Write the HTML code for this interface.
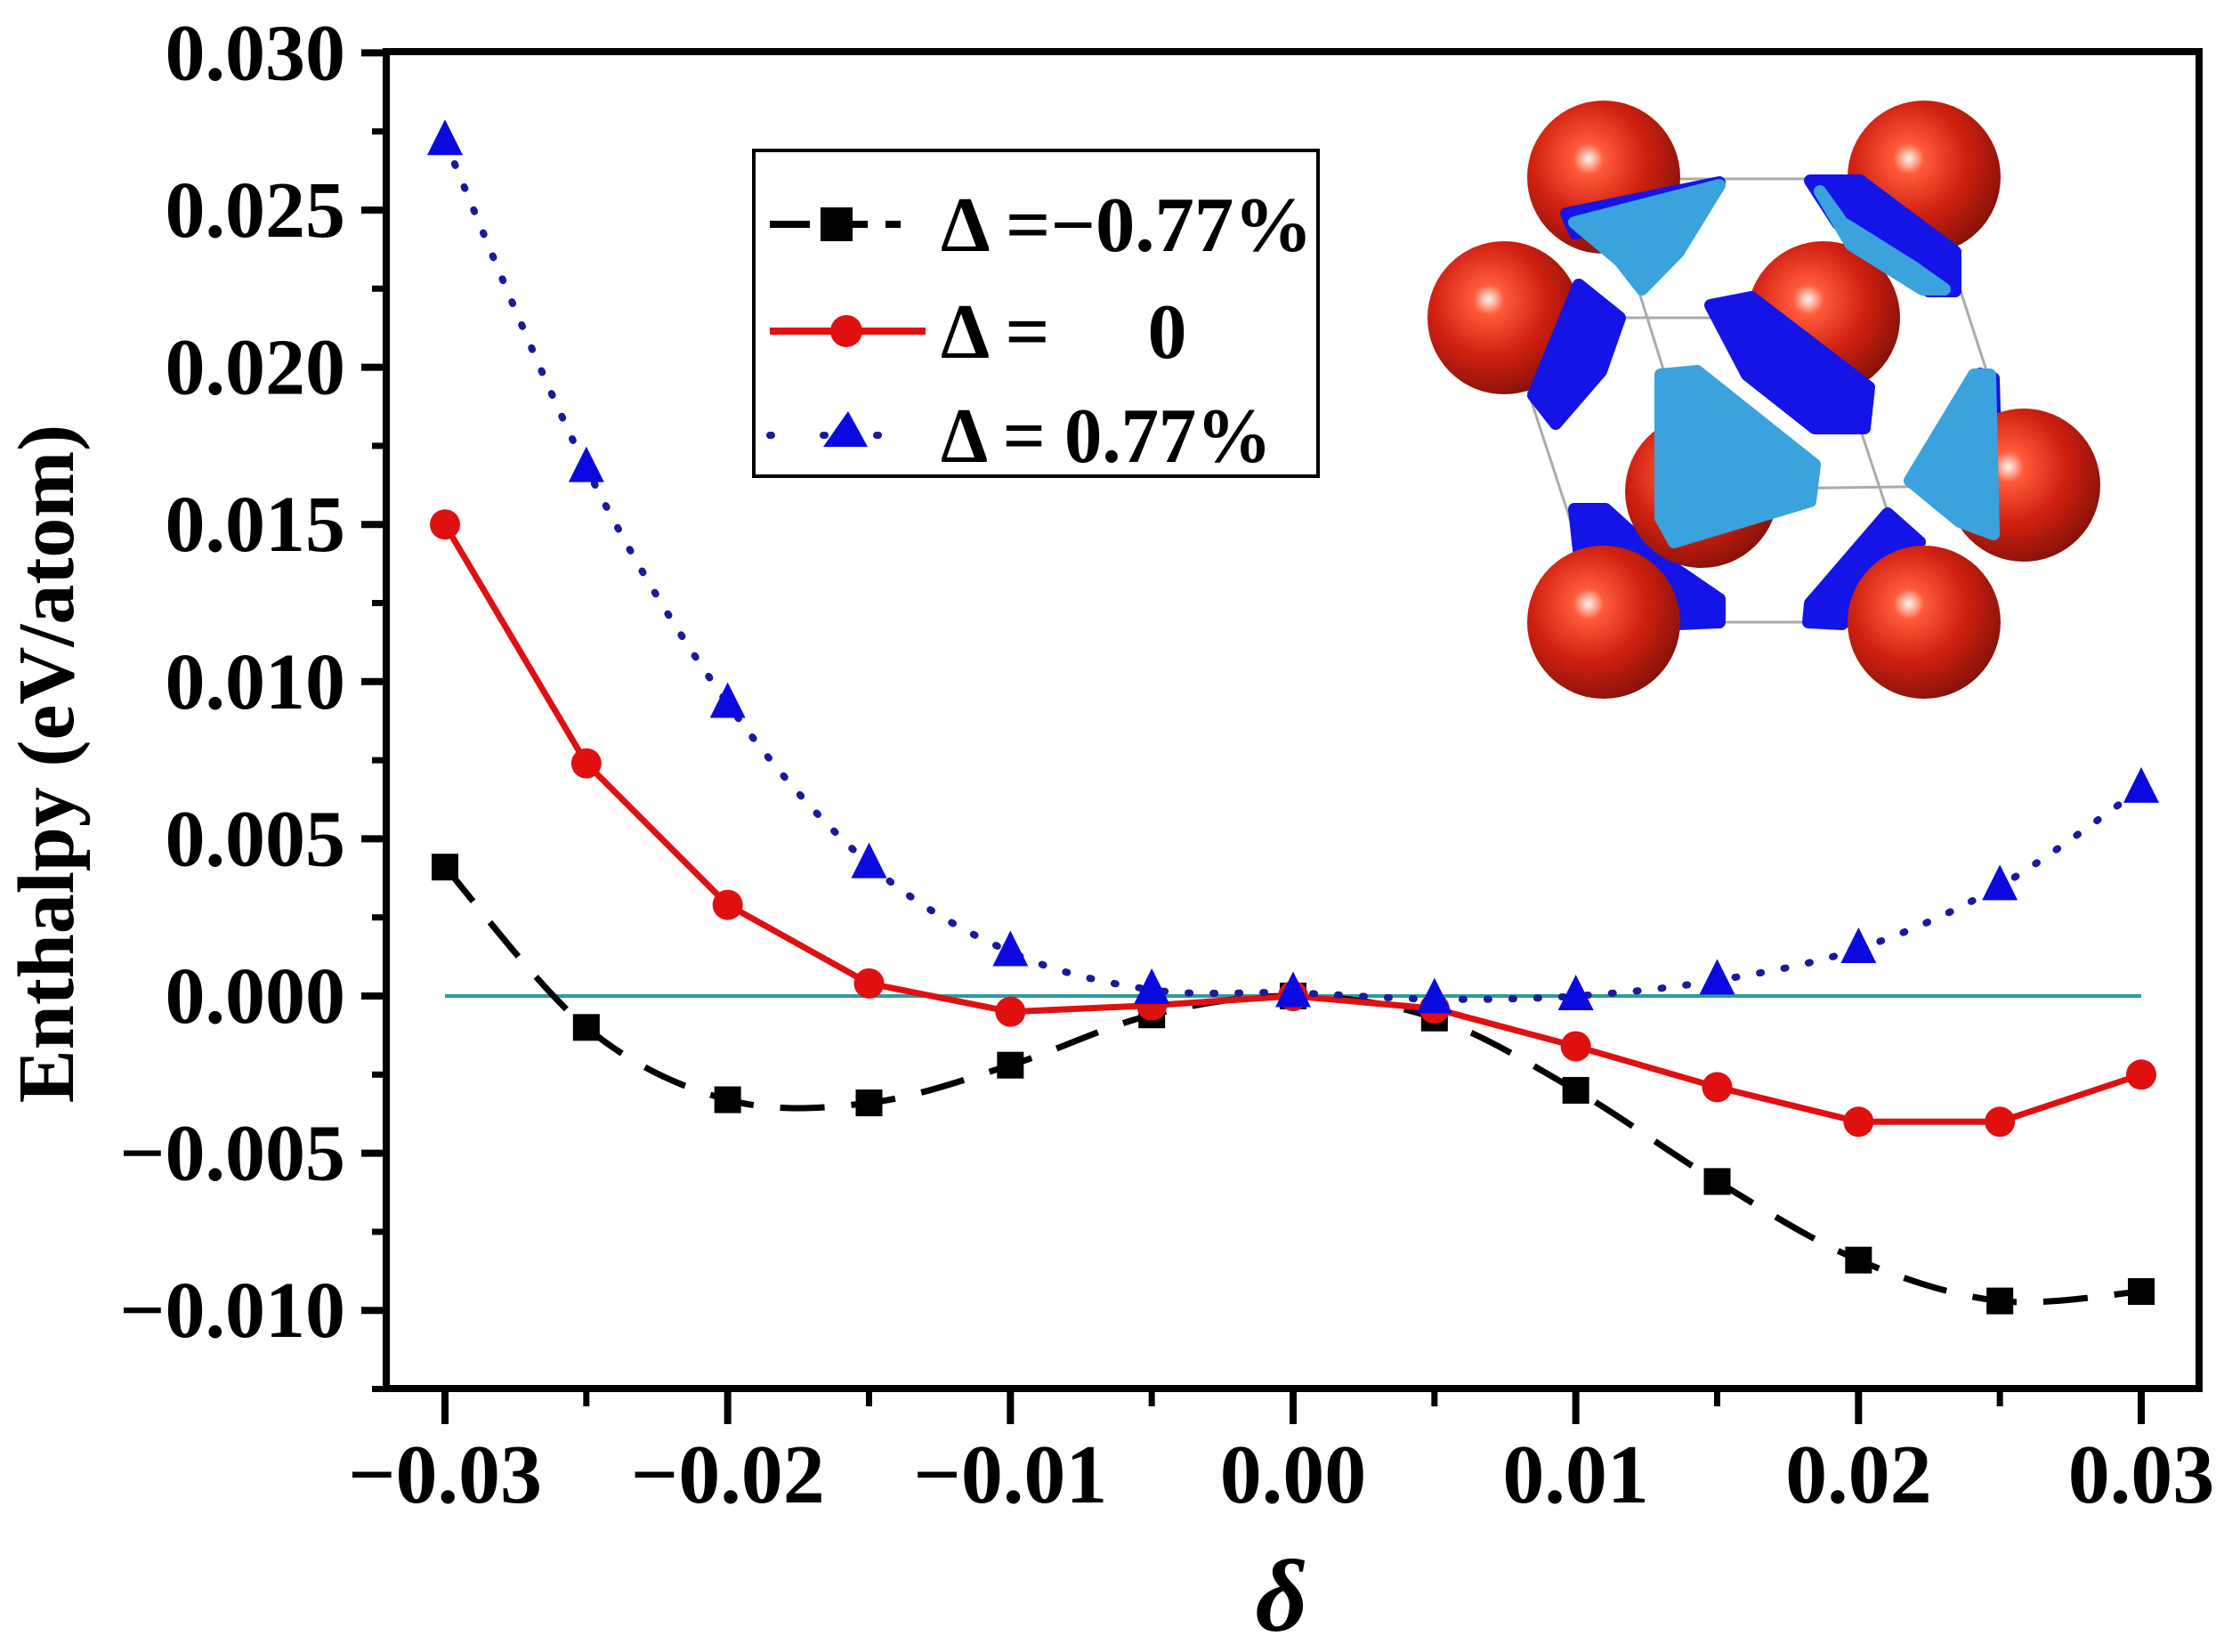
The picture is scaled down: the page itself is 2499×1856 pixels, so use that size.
<!DOCTYPE html>
<html><head><meta charset="utf-8"><style>
html,body{margin:0;padding:0;background:#fff;}
svg{display:block;}
text{font-family:"Liberation Serif","Times New Roman",serif;font-weight:bold;}
</style></head><body>
<svg id="chart" width="2499" height="1856" viewBox="0 0 2499 1856" xmlns="http://www.w3.org/2000/svg">
<defs>
<radialGradient id="sph" cx="0.4" cy="0.38" r="0.68">
<stop offset="0" stop-color="#fff6ee"/><stop offset="0.15" stop-color="#ff5a3a"/><stop offset="0.55" stop-color="#d02010"/><stop offset="1" stop-color="#801008"/>
</radialGradient>
</defs>
<g id="inset"></g>
<g id="plot"></g>
</svg>
<script>
const xVals=[-0.03,-0.025,-0.02,-0.015,-0.01,-0.005,0,0.005,0.01,0.015,0.02,0.025,0.03];
const blackVals=[0.0041,-0.001,-0.0033,-0.0034,-0.0022,-0.0006,0,-0.0007,-0.003,-0.0059,-0.0084,-0.0097,-0.0094];
const redVals=[0.015,0.0074,0.0029,0.0004,-0.0005,-0.0003,0,-0.0004,-0.0016,-0.0029,-0.004,-0.004,-0.0025];
const blueVals=[0.0272,0.0168,0.0093,0.0042,0.0014,0.0002,0.0001,-0.0001,0,0.0005,0.0015,0.0035,0.0066];
const xTicks=[-0.03,-0.02,-0.01,0,0.01,0.02,0.03];
const xTickLabels=["\u22120.03","\u22120.02","\u22120.01","0.00","0.01","0.02","0.03"];
const yTicks=[0.03,0.025,0.02,0.015,0.01,0.005,0,-0.005,-0.01];
const yTickLabels=["0.030","0.025","0.020","0.015","0.010","0.005","0.000","\u22120.005","\u22120.010"];

const NS="http://www.w3.org/2000/svg";
const L=434,R=2471,T=58,B=1560;
function X(v){return 500+(v+0.03)/0.06*(2406-500);}
function Y(v){return 1119-v/0.005*176.6;}
const plot=document.getElementById('plot');
function mk(tag,attrs,parent){const e=document.createElementNS(NS,tag);for(const k in attrs)e.setAttribute(k,attrs[k]);(parent||plot).appendChild(e);return e;}

let fr=mk('rect',{x:L,y:T,width:R-L,height:B-T,fill:'none',stroke:'#000','stroke-width':8});



for(let i=0;i<yTicks.length;i++){
  const y=Y(yTicks[i]);
  let t=mk('line',{x1:L-28,y1:y,x2:L,y2:y,stroke:'#000','stroke-width':8});
  
  
  let lb=mk('text',{x:388,y:y+30,'text-anchor':'end','font-size':90});
  lb.textContent=yTickLabels[i];
  
  
  if(i<yTicks.length-1){
    const ym=Y(yTicks[i]-0.0025);
    let m=mk('line',{x1:L-16,y1:ym,x2:L,y2:ym,stroke:'#000','stroke-width':7});
    
    
  }
}
let ym2=Y(-0.0125);
let mm=mk('line',{x1:L-16,y1:ym2,x2:L,y2:ym2,stroke:'#000','stroke-width':7});



for(let i=0;i<xTicks.length;i++){
  const x=X(xTicks[i]);
  let t=mk('line',{x1:x,y1:B,x2:x,y2:B+40,stroke:'#000','stroke-width':8});
  
  
  let lb=mk('text',{x:x,y:1688,'text-anchor':'middle','font-size':94});
  lb.textContent=xTickLabels[i];
  
  
  if(i<xTicks.length-1){
    const xm=X(xTicks[i]+0.005);
    let m=mk('line',{x1:xm,y1:B,x2:xm,y2:B+20,stroke:'#000','stroke-width':7});
    
    
  }
}

let yt=mk('text',{x:0,y:0,'text-anchor':'middle','font-size':90,transform:'translate(82,858) rotate(-90)'});
yt.textContent='Enthalpy (eV/atom)';


let xt=mk('text',{x:1440,y:1832,'text-anchor':'middle','font-size':115,'font-style':'italic','font-weight':'normal'});
xt.textContent='\u03b4';



let zl=mk('line',{x1:X(-0.03),y1:Y(0),x2:X(0.03),y2:Y(0),stroke:'#2f9c9c','stroke-width':4});



function smoothPath(vals){
  const p=xVals.map((v,i)=>[X(v),Y(vals[i])]);
  let d='M'+p[0][0]+','+p[0][1];
  for(let i=0;i<p.length-1;i++){
    const p0=p[Math.max(0,i-1)],p1=p[i],p2=p[i+1],p3=p[Math.min(p.length-1,i+2)];
    const c1=[p1[0]+(p2[0]-p0[0])/6,p1[1]+(p2[1]-p0[1])/6];
    const c2=[p2[0]-(p3[0]-p1[0])/6,p2[1]-(p3[1]-p1[1])/6];
    d+=' C'+c1[0]+','+c1[1]+' '+c2[0]+','+c2[1]+' '+p2[0]+','+p2[1];
  }
  return d;
}
function straightPath(vals){return xVals.map((v,i)=>(i?'L':'M')+X(v)+','+Y(vals[i])).join(' ');}

let bl=mk('path',{d:smoothPath(blackVals),fill:'none',stroke:'#000','stroke-width':7,'stroke-dasharray':'50 30'});


let rl=mk('path',{d:straightPath(redVals),fill:'none',stroke:'#e01010','stroke-width':7});


let ul=mk('path',{d:smoothPath(blueVals),fill:'none',stroke:'#1a1a9a','stroke-width':8,'stroke-dasharray':'2 26','stroke-linecap':'round'});



function square(x,y,s){return mk('rect',{x:x-s/2,y:y-s/2,width:s,height:s,fill:'#000'});}
function circle(x,y,r){return mk('circle',{cx:x,cy:y,r:r,fill:'#e01010'});}
function tri(x,y,s){return mk('polygon',{points:`${x},${y-s*0.6} ${x-s/2},${y+s*0.4} ${x+s/2},${y+s*0.4}`,fill:'#0a0ae0'});}
xVals.forEach((v,i)=>{
  let a=square(X(v),Y(blackVals[i]),30);
  
  
  let b=circle(X(v),Y(redVals[i]),17);
  
  
  let c=tri(X(v),Y(blueVals[i]),40);
  
  
});

const lg=mk('g',{});


mk('rect',{x:847,y:169,width:634,height:366,fill:'#fff',stroke:'#000','stroke-width':4},lg);
mk('line',{x1:865,y1:252,x2:1012,y2:252,stroke:'#000','stroke-width':8,'stroke-dasharray':'45 20'},lg);
mk('rect',{x:922,y:233,width:36,height:38,fill:'#000'},lg);
mk('line',{x1:865,y1:372,x2:1040,y2:372,stroke:'#e01010','stroke-width':8},lg);
mk('circle',{cx:951,cy:372,r:18,fill:'#e01010'},lg);
mk('line',{x1:865,y1:489,x2:995,y2:489,stroke:'#1a1a9a','stroke-width':8,'stroke-dasharray':'2 58','stroke-linecap':'round'},lg);
mk('polygon',{points:'953,462 925,502 975,502',fill:'#0a0ae0'},lg);
const lt=[['\u0394 =\u22120.77%',252,418],['\u0394 =     0',372,null],['\u0394 = 0.77%',489,372]];
lt.forEach(([s,y,w])=>{
  const a={x:1057,y:y+30,'font-size':88};
  if(w){a.textLength=w;a.lengthAdjust='spacingAndGlyphs';}
  const t=mk('text',a,lg);t.setAttribute('xml:space','preserve');t.style.whiteSpace='pre';t.textContent=s;
  
  
});

// inset
const ins=document.getElementById('inset');
const S=[[1802,199],[2162,199],[1690,357],[2049,357],[1912,552],[2274,545],[1802,699],[2162,699]];
const cellLines=[[1802,201,2162,201],[1690,357,2049,357],[1912,550,2274,545],[1802,699,2162,699],[1690,357,1802,699],[1802,201,1912,552],[2049,357,2162,699],[2162,201,2274,545]];
cellLines.forEach(c=>{mk('line',{x1:c[0],y1:c[1],x2:c[2],y2:c[3],stroke:'#aaa','stroke-width':3},ins);});
function sphere(p){
  const c=mk('circle',{cx:p[0],cy:p[1],r:86,fill:'url(#sph)'},ins);
  
  
}
function blob(col,pts){
  const e=mk('polygon',{points:pts,fill:col,stroke:col,'stroke-width':14,'stroke-linejoin':'round'},ins);
  
  
}
[0,1,2,3].forEach(i=>sphere(S[i]));
blob('#1414e6','1760,240 1932,205 1900,225 1770,262');
blob('#1414e6','1774,320 1820,357 1799,417 1748,476 1723,444');
blob('#1414e6','1922,343 1968,334 2100,435 2095,481 2039,481 1963,421');
blob('#1414e6','2034,203 2090,203 2197,283 2197,327 2167,327 2065,251');
blob('#1414e6','1769,572 1804,572 1866,628 1932,673 1932,699 1886,701 1774,618');
blob('#1414e6','2121,577 2157,609 2070,701 2032,699 2034,678');
blob('#1414e6','2225,420 2240,425 2245,600 2232,590');
blob('#3aa2dc','1769,250 1932,208 1886,283 1845,325 1820,293');
blob('#3aa2dc','2045,215 2070,250 2150,300 2185,325 2160,325 2080,275');
sphere(S[4]);sphere(S[5]);
blob('#3aa2dc','1866,421 1907,417 2039,522 2034,563 1881,609 1866,582');
blob('#3aa2dc','2218,421 2236,421 2240,600 2202,586 2146,540');
sphere(S[6]);sphere(S[7]);
</script>
</body></html>
